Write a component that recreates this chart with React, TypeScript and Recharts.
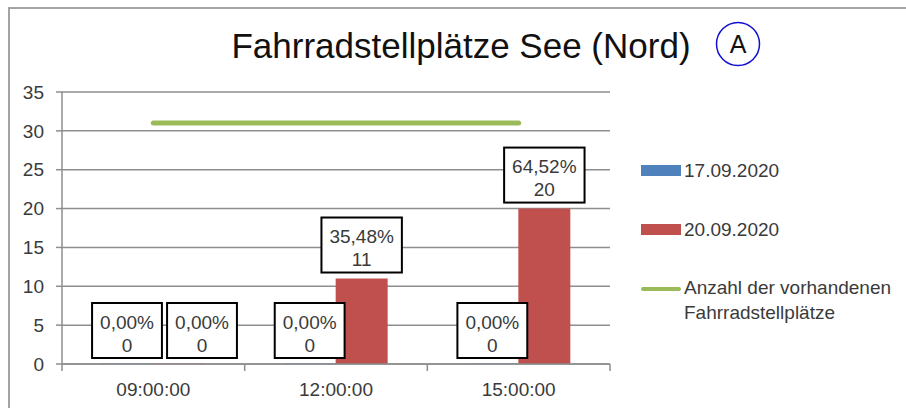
import React from 'react';
import { ComposedChart, Bar, Line, XAxis, YAxis, CartesianGrid, LabelList } from 'recharts';

const categories = ['09:00:00', '12:00:00', '15:00:00'];
const series1 = [0, 0, 0]; // 17.09.2020
const series2 = [0, 11, 20]; // 20.09.2020
const capacity = [31, 31, 31]; // Anzahl der vorhandenen Fahrradstellplätze
const yTicks = [0, 5, 10, 15, 20, 25, 30, 35];
const seriesNames = ['17.09.2020', '20.09.2020', 'Anzahl der vorhandenen', 'Fahrradstellplätze'];
const title = 'Fahrradstellplätze See (Nord)';
const badge = 'A';

const data = categories.map((c, i) => ({ cat: c, s1: series1[i], s2: series2[i], cap: capacity[i] }));

const FONT = '"Liberation Sans", Arial, Helvetica, sans-serif';
const BLUE = '#4f81bd';
const RED = '#c0504d';
const GREEN = '#9bbb59';
const GRID = '#8e8e8e';
const TXT = '#3a3a3a';

const charW: Record<string, number> = { '0': 0.556, '1': 0.556, '2': 0.556, '3': 0.556, '4': 0.556, '5': 0.556, '6': 0.556, '7': 0.556, '8': 0.556, '9': 0.556, ',': 0.278, '%': 0.889 };
const textWidth = (s: string, fs: number) => s.split('').reduce((a, ch) => a + (charW[ch] ?? 0.556), 0) * fs;

const fmtPct = (v: number, i: number) => ((v / capacity[i]) * 100).toFixed(2).replace('.', ',') + '%';

const makeLabel = (shift: (i: number) => number) => (props: any) => {
  const { x, y, width, height, value, index } = props;
  const v = Number(value) || 0;
  const cx = Number(x) + Number(width) / 2 + shift(index);
  const pct = fmtPct(v, index);
  const w = textWidth(pct, 19) + 16;
  const h = 55;
  // top of the bar (for zero bars, the baseline)
  const barTop = v === 0 ? Number(y) + Number(height) : Number(y);
  const bottom = barTop - 6;
  const top = bottom - h;
  return (
    <g>
      <rect x={cx - w / 2} y={top} width={w} height={h} fill="#fff" stroke="#000" strokeWidth={2} />
      <text x={cx} y={top + 19} textAnchor="middle" dominantBaseline="central" fontFamily={FONT} fontSize={19} fill={TXT}>{pct}</text>
      <text x={cx} y={top + 42} textAnchor="middle" dominantBaseline="central" fontFamily={FONT} fontSize={19} fill={TXT}>{String(v)}</text>
    </g>
  );
};

const XTick = (props: any) => {
  const { x, y, payload, index } = props;
  const off = payload?.offset ?? 91.33;
  const last = index === categories.length - 1;
  return (
    <g>
      <line x1={x - off} x2={x - off} y1={y} y2={y + 7} stroke={GRID} strokeWidth={1.5} />
      {last && <line x1={x + off} x2={x + off} y1={y} y2={y + 7} stroke={GRID} strokeWidth={1.5} />}
      <text x={x} y={y + 25} textAnchor="middle" dominantBaseline="central" fontFamily={FONT} fontSize={19} fill={TXT}>{payload.value}</text>
    </g>
  );
};

export default function App() {
  return (
    <div style={{ position: 'absolute', left: 0, top: 0, width: 906, height: 408, background: '#fff', overflow: 'hidden', fontFamily: FONT }}>
      <div style={{ position: 'absolute', left: 8, top: 7, width: 920, height: 420, borderTop: '2px solid #a3a3a3', borderLeft: '2px solid #a3a3a3' }} />
      <svg width={906} height={80} style={{ position: 'absolute', left: 0, top: 0 }}>
        <text x={461} y={58} textAnchor="middle" fontFamily={FONT} fontSize={35} fill="#111">{title}</text>
        <circle cx={738} cy={44} r={21.5} fill="none" stroke="#1010d0" strokeWidth={1.5} />
        <text x={738} y={53} textAnchor="middle" fontFamily={FONT} fontSize={25} fill="#111">{badge}</text>
      </svg>
      <div style={{ position: 'absolute', left: 0, top: 0 }}>
        <ComposedChart width={906} height={408} data={data} margin={{ top: 92, right: 296, bottom: 0, left: 0 }} barGap={0}>
          <CartesianGrid vertical={false} stroke={GRID} strokeWidth={1.5} />
          <XAxis dataKey="cat" height={44} tickSize={0} tickMargin={0} tickLine={false} axisLine={{ stroke: GRID, strokeWidth: 1.5 }} tick={<XTick />} interval={0} />
          <YAxis width={62} domain={[0, 35]} ticks={yTicks} tickSize={6} tickMargin={12} axisLine={{ stroke: GRID, strokeWidth: 1.5 }} tickLine={{ stroke: GRID, strokeWidth: 1.5 }} tick={{ fontFamily: FONT, fontSize: 19, fill: TXT }} interval={0} />
          <Bar dataKey="s1" fill={BLUE} barSize={52} minPointSize={0.5} isAnimationActive={false}>
            <LabelList dataKey="s1" content={makeLabel(() => 0)} />
          </Bar>
          <Bar dataKey="s2" fill={RED} barSize={52} minPointSize={0.5} isAnimationActive={false}>
            <LabelList dataKey="s2" content={makeLabel((i) => (i === 0 ? 23 : 0))} />
          </Bar>
          <Line dataKey="cap" type="linear" stroke={GREEN} strokeWidth={5} strokeLinecap="round" dot={false} activeDot={false} isAnimationActive={false} />
        </ComposedChart>
      </div>
      <div style={{ position: 'absolute', left: 641, top: 160, width: 265, fontSize: 19, color: TXT, lineHeight: '25px' }}>
        <div style={{ position: 'absolute', left: 0, top: 5, width: 40, height: 11, background: BLUE }} />
        <div style={{ position: 'absolute', left: 43, top: -2, whiteSpace: 'nowrap' }}>{seriesNames[0]}</div>
        <div style={{ position: 'absolute', left: 0, top: 64, width: 40, height: 11, background: RED }} />
        <div style={{ position: 'absolute', left: 43, top: 57, whiteSpace: 'nowrap' }}>{seriesNames[1]}</div>
        <div style={{ position: 'absolute', left: 0, top: 127, width: 40, height: 4, borderRadius: 2, background: GREEN }} />
        <div style={{ position: 'absolute', left: 43, top: 115, whiteSpace: 'nowrap' }}>{seriesNames[2]}<br />{seriesNames[3]}</div>
      </div>
    </div>
  );
}
